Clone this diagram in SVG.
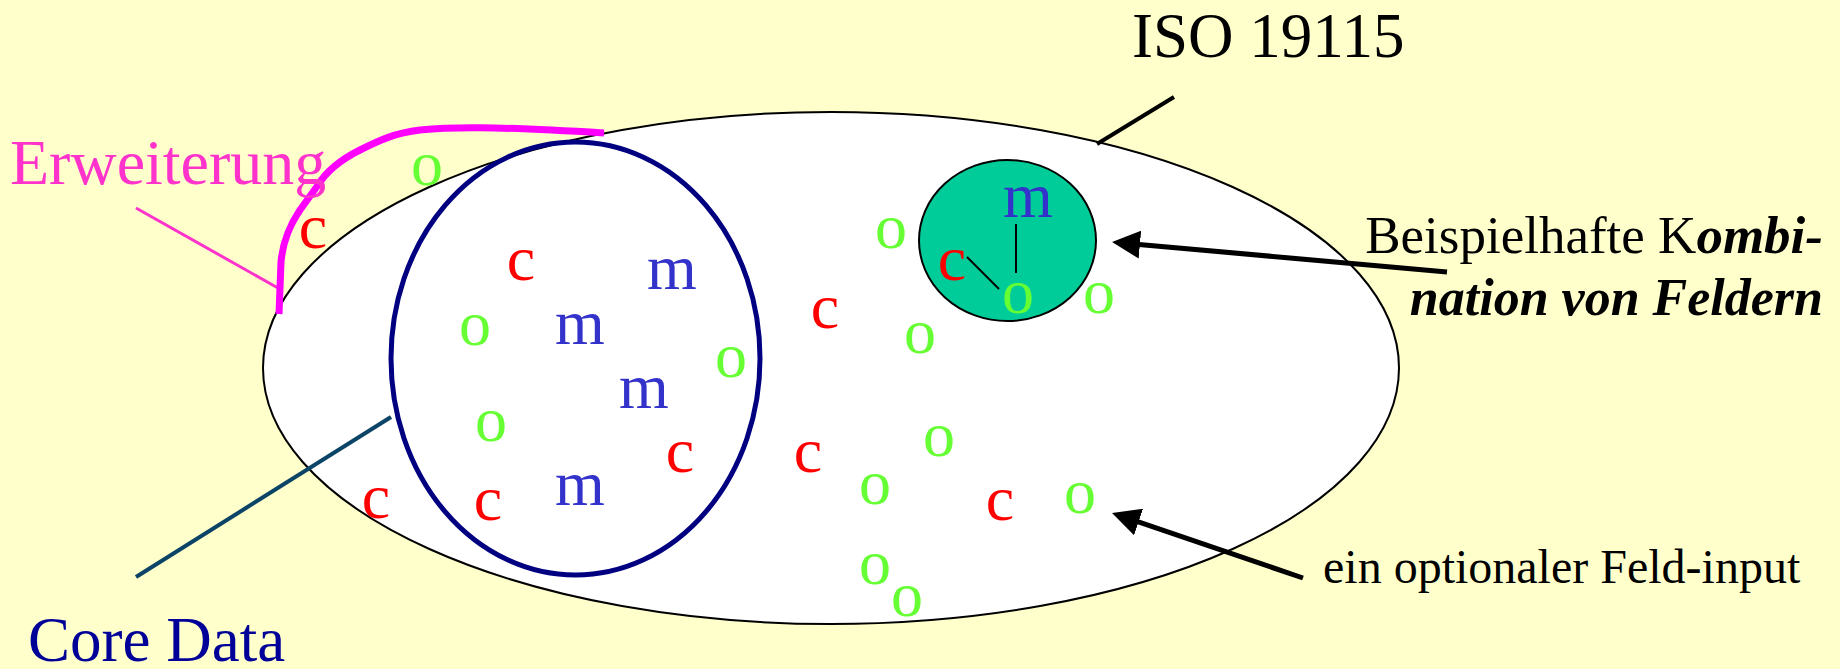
<svg xmlns="http://www.w3.org/2000/svg" width="1840" height="669" viewBox="0 0 1840 669">
<style>
text{font-family:"Liberation Serif","Times New Roman",serif}
.o{fill:#66FF33;font-size:64px;text-anchor:middle}
.c{fill:#FF0000;font-size:64px;text-anchor:middle}
.m{fill:#3333CC;font-size:64px;text-anchor:middle}
.bi{font-weight:bold;font-style:italic}
.arrow{stroke:#000;stroke-width:5;fill:none;marker-end:url(#ah)}
</style>
<defs>
<marker id="ah" markerUnits="userSpaceOnUse" markerWidth="28" markerHeight="28" viewBox="0 0 28 28" refX="18" refY="14" orient="auto">
<path d="M0,0 L28,14 L0,28 Z" fill="#000"/>
</marker>
</defs>
<rect width="1840" height="669" fill="#FFFFCC"/>
<g id="iso19115">
<ellipse cx="831" cy="368" rx="568" ry="256" fill="#FFFFFF" stroke="#000" stroke-width="2"/>
</g>
<g id="core-data">
<ellipse cx="575.5" cy="358.5" rx="184.5" ry="216.5" fill="none" stroke="#000080" stroke-width="5"/>
</g>
<g id="kombination">
<ellipse cx="1007.5" cy="240.5" rx="88.5" ry="80.5" fill="#00CC99" stroke="#000" stroke-width="2"/>
</g>
<g id="connectors">
<line x1="1174" y1="97" x2="1097" y2="144" stroke="#000" stroke-width="4"/>
<line x1="391" y1="417" x2="136" y2="577" stroke="#0B4466" stroke-width="4"/>
<line x1="136" y1="208" x2="278" y2="288" stroke="#FF33CC" stroke-width="3"/>
<path d="M279,314 L281,262 C283,240 290,225 300,210 L318,185 C326,172 340,160 360,150 C380,140 395,133 420,130 C450,127 490,126 604,133" fill="none" stroke="#FF00FF" stroke-width="7" stroke-linejoin="round"/>
<line x1="1016" y1="224" x2="1016" y2="273" stroke="#000" stroke-width="2"/>
<line x1="967" y1="257" x2="999" y2="289" stroke="#000" stroke-width="2"/>
<line class="arrow" x1="1447" y1="272" x2="1122" y2="243"/>
<line class="arrow" x1="1303" y1="578" x2="1121.5" y2="516.2"/>
</g>
<g id="fields">
<text class="o" x="427" y="185">o</text>
<text class="o" x="475" y="345">o</text>
<text class="o" x="731" y="377">o</text>
<text class="o" x="491" y="441">o</text>
<text class="o" x="891" y="248">o</text>
<text class="o" x="920" y="353">o</text>
<text class="o" x="1018" y="313">o</text>
<text class="o" x="1099" y="313">o</text>
<text class="o" x="939" y="456">o</text>
<text class="o" x="875" y="504">o</text>
<text class="o" x="1080" y="513">o</text>
<text class="o" x="875" y="584">o</text>
<text class="o" x="907" y="616">o</text>
<text class="c" x="313" y="248">c</text>
<text class="c" x="521" y="280">c</text>
<text class="c" x="825" y="328">c</text>
<text class="c" x="680" y="472">c</text>
<text class="c" x="808" y="472">c</text>
<text class="c" x="376" y="518">c</text>
<text class="c" x="488" y="520">c</text>
<text class="c" x="1000" y="520">c</text>
<text class="c" x="952" y="280">c</text>
<text class="m" x="672" y="289">m</text>
<text class="m" x="580" y="344">m</text>
<text class="m" x="644" y="408">m</text>
<text class="m" x="580" y="505">m</text>
<text class="m" x="1028" y="217">m</text>
</g>
<g id="labels">
<text x="1132" y="57" font-size="63" fill="#000">ISO 19115</text>
<text x="10" y="184" font-size="64" fill="#FF33CC">Erweiterung</text>
<text x="28" y="661" font-size="63" fill="#000099">Core Data</text>
<text x="1823" y="253" font-size="53" fill="#000" text-anchor="end">Beispielhafte K<tspan class="bi">ombi-</tspan></text>
<text x="1823" y="315" font-size="52" fill="#000" text-anchor="end" class="bi">nation von Feldern</text>
<text x="1323" y="583" font-size="48" fill="#000">ein optionaler Feld-input</text>
</g>
</svg>
